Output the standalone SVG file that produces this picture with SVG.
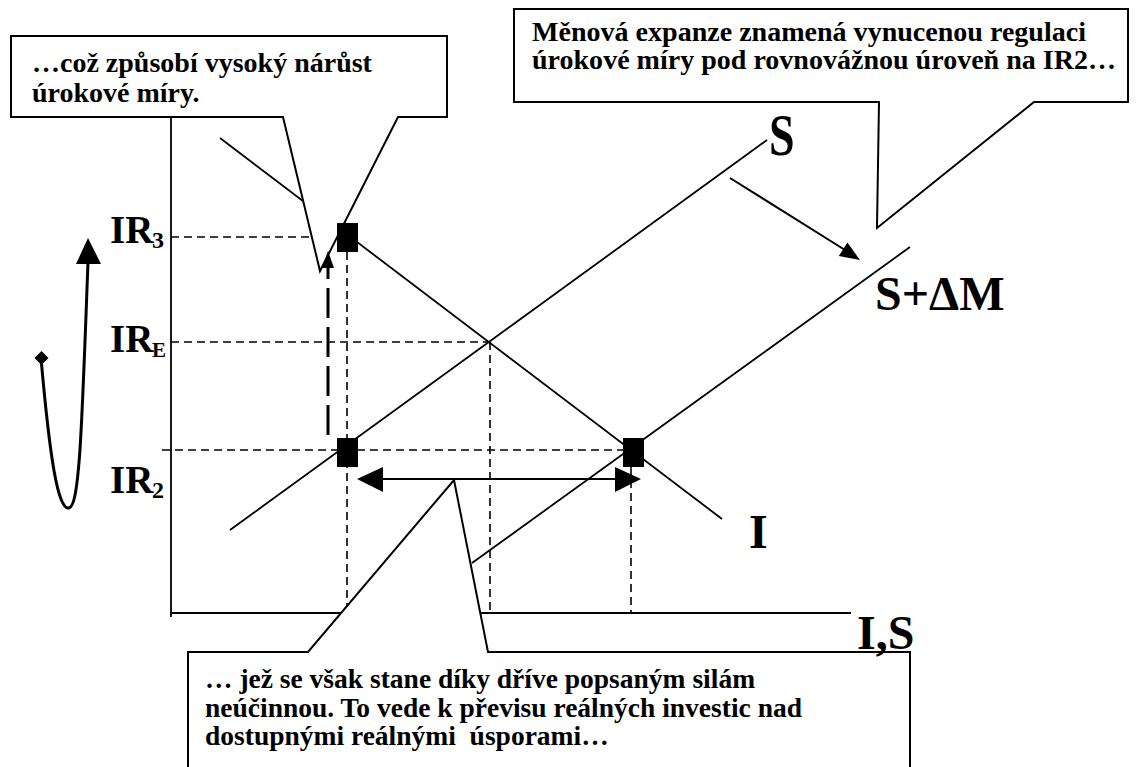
<svg xmlns="http://www.w3.org/2000/svg" width="1136" height="767" viewBox="0 0 1136 767">
  <style>
    .ln { stroke: #000; stroke-width: 1.8; fill: none; }
    .dash { stroke: #000; stroke-width: 1.6; stroke-dasharray: 8 5; fill: none; }
    .callout { fill: #fff; stroke: #000; stroke-width: 2; }
    .note { font-family: "Liberation Serif", "Times New Roman", serif; font-weight: bold; font-size: 28px; fill: #000; }
    .lbl { font-family: "Liberation Serif", "Times New Roman", serif; font-weight: bold; fill: #000; }
    .blk { fill: #000; }
  </style>
  <rect width="1136" height="767" fill="#fff"/>

  <!-- axes and curves -->
  <g id="axes">
    <line class="ln" x1="171" y1="110" x2="171" y2="617"/>
    <line class="ln" x1="171" y1="613" x2="851" y2="613"/>
  </g>
  <g id="guides">
    <line class="dash" x1="171" y1="237" x2="337" y2="237"/>
    <line class="dash" x1="171" y1="342" x2="490" y2="342"/>
    <line class="dash" x1="162" y1="450" x2="623" y2="450"/>
    <line class="dash" x1="347" y1="252" x2="347" y2="613"/>
    <line class="dash" x1="490" y1="342" x2="490" y2="613"/>
    <line class="dash" x1="631" y1="467" x2="631" y2="613"/>
  </g>
  <g id="curve-I">
    <line class="ln" x1="220" y1="138" x2="722" y2="519"/>
  </g>
  <g id="curve-S">
    <line class="ln" x1="230" y1="530" x2="767" y2="140"/>
  </g>
  <g id="curve-S-dM">
    <line class="ln" x1="472" y1="563" x2="910" y2="247"/>
  </g>

  <!-- callouts -->
  <g id="note-top-left">
    <path class="callout" d="M11,36 H447 V117 H398 L320,271 L283,117 H11 Z"/>
    <text class="note" x="32" y="72">…což způsobí vysoký nárůst</text>
    <text class="note" x="32" y="102">úrokové míry.</text>
  </g>
  <g id="note-top-right">
    <path class="callout" d="M514,9 H1128 V102 H1034 L877,228 L879,102 H514 Z"/>
    <text class="note" x="532" y="41" style="font-size:26.5px" textLength="554" lengthAdjust="spacingAndGlyphs">Měnová expanze znamená vynucenou regulaci</text>
    <text class="note" x="532" y="69" style="font-size:26.5px" textLength="584" lengthAdjust="spacingAndGlyphs">úrokové míry pod rovnovážnou úroveň na IR2…</text>
  </g>
  <g id="note-bottom">
    <path class="callout" d="M188,780 V652 H308 L454,480 L488,652 H910 V780 Z"/>
    <text class="note" x="205" y="688" style="font-size:27.5px">… jež se však stane díky dříve popsaným silám</text>
    <text class="note" x="205" y="717" style="font-size:27.5px">neúčinnou. To vede k převisu reálných investic nad</text>
    <text class="note" x="205" y="745" style="font-size:27.5px" xml:space="preserve">dostupnými reálnými  úsporami…</text>
  </g>

  <!-- points on the curves -->
  <g id="point-IR3"><rect class="blk" x="337" y="223" width="21" height="29"/></g>
  <g id="point-IR2-S"><rect class="blk" x="337" y="438" width="21" height="29"/></g>
  <g id="point-IR2-I"><rect class="blk" x="623" y="438" width="21" height="29"/></g>

  <!-- arrows -->
  <g id="connectors">
    <!-- rise of the interest rate -->
    <line x1="328" y1="435" x2="328" y2="266" stroke="#000" stroke-width="3" stroke-dasharray="30 9"/>
    <polygon points="328,251 322,268 334,268" fill="#000"/>
    <!-- gap between investment and saving -->
    <line x1="380" y1="479" x2="618" y2="479" stroke="#000" stroke-width="2"/>
    <polygon points="357,479 383,467 383,492" fill="#000"/>
    <polygon points="641,479 615,467 615,492" fill="#000"/>
    <!-- shift of the saving curve -->
    <line x1="730" y1="178" x2="845" y2="250" stroke="#000" stroke-width="2"/>
    <polygon points="860,260 838.8,256.1 847.4,242.5" fill="#000"/>
    <!-- swing of the rate -->
    <path d="M41,358 C50,460 58,510 69,508 C80,506 82,420 88,262" fill="none" stroke="#000" stroke-width="3"/>
    <polygon points="41.5,351 48.5,358 41.5,365 34.5,358" fill="#000"/>
    <polygon points="88,238 76,264 101,264" fill="#000"/>
  </g>

  <!-- labels -->
  <g id="labels">
    <text class="lbl" x="110" y="243" font-size="39">IR</text>
    <text class="lbl" x="152" y="248" font-size="24">3</text>
    <text class="lbl" x="110" y="352" font-size="39">IR</text>
    <text class="lbl" x="152" y="357" font-size="21">E</text>
    <text class="lbl" x="110" y="493" font-size="39">IR</text>
    <text class="lbl" x="152" y="498" font-size="24">2</text>
    <text class="lbl" font-size="46" transform="translate(769,155) scale(1,1.3)">S</text>
    <text class="lbl" x="875" y="310" font-size="48">S+ΔM</text>
    <text class="lbl" x="749" y="548" font-size="48">I</text>
    <text class="lbl" x="857" y="649" font-size="48">I,S</text>
  </g>
</svg>
